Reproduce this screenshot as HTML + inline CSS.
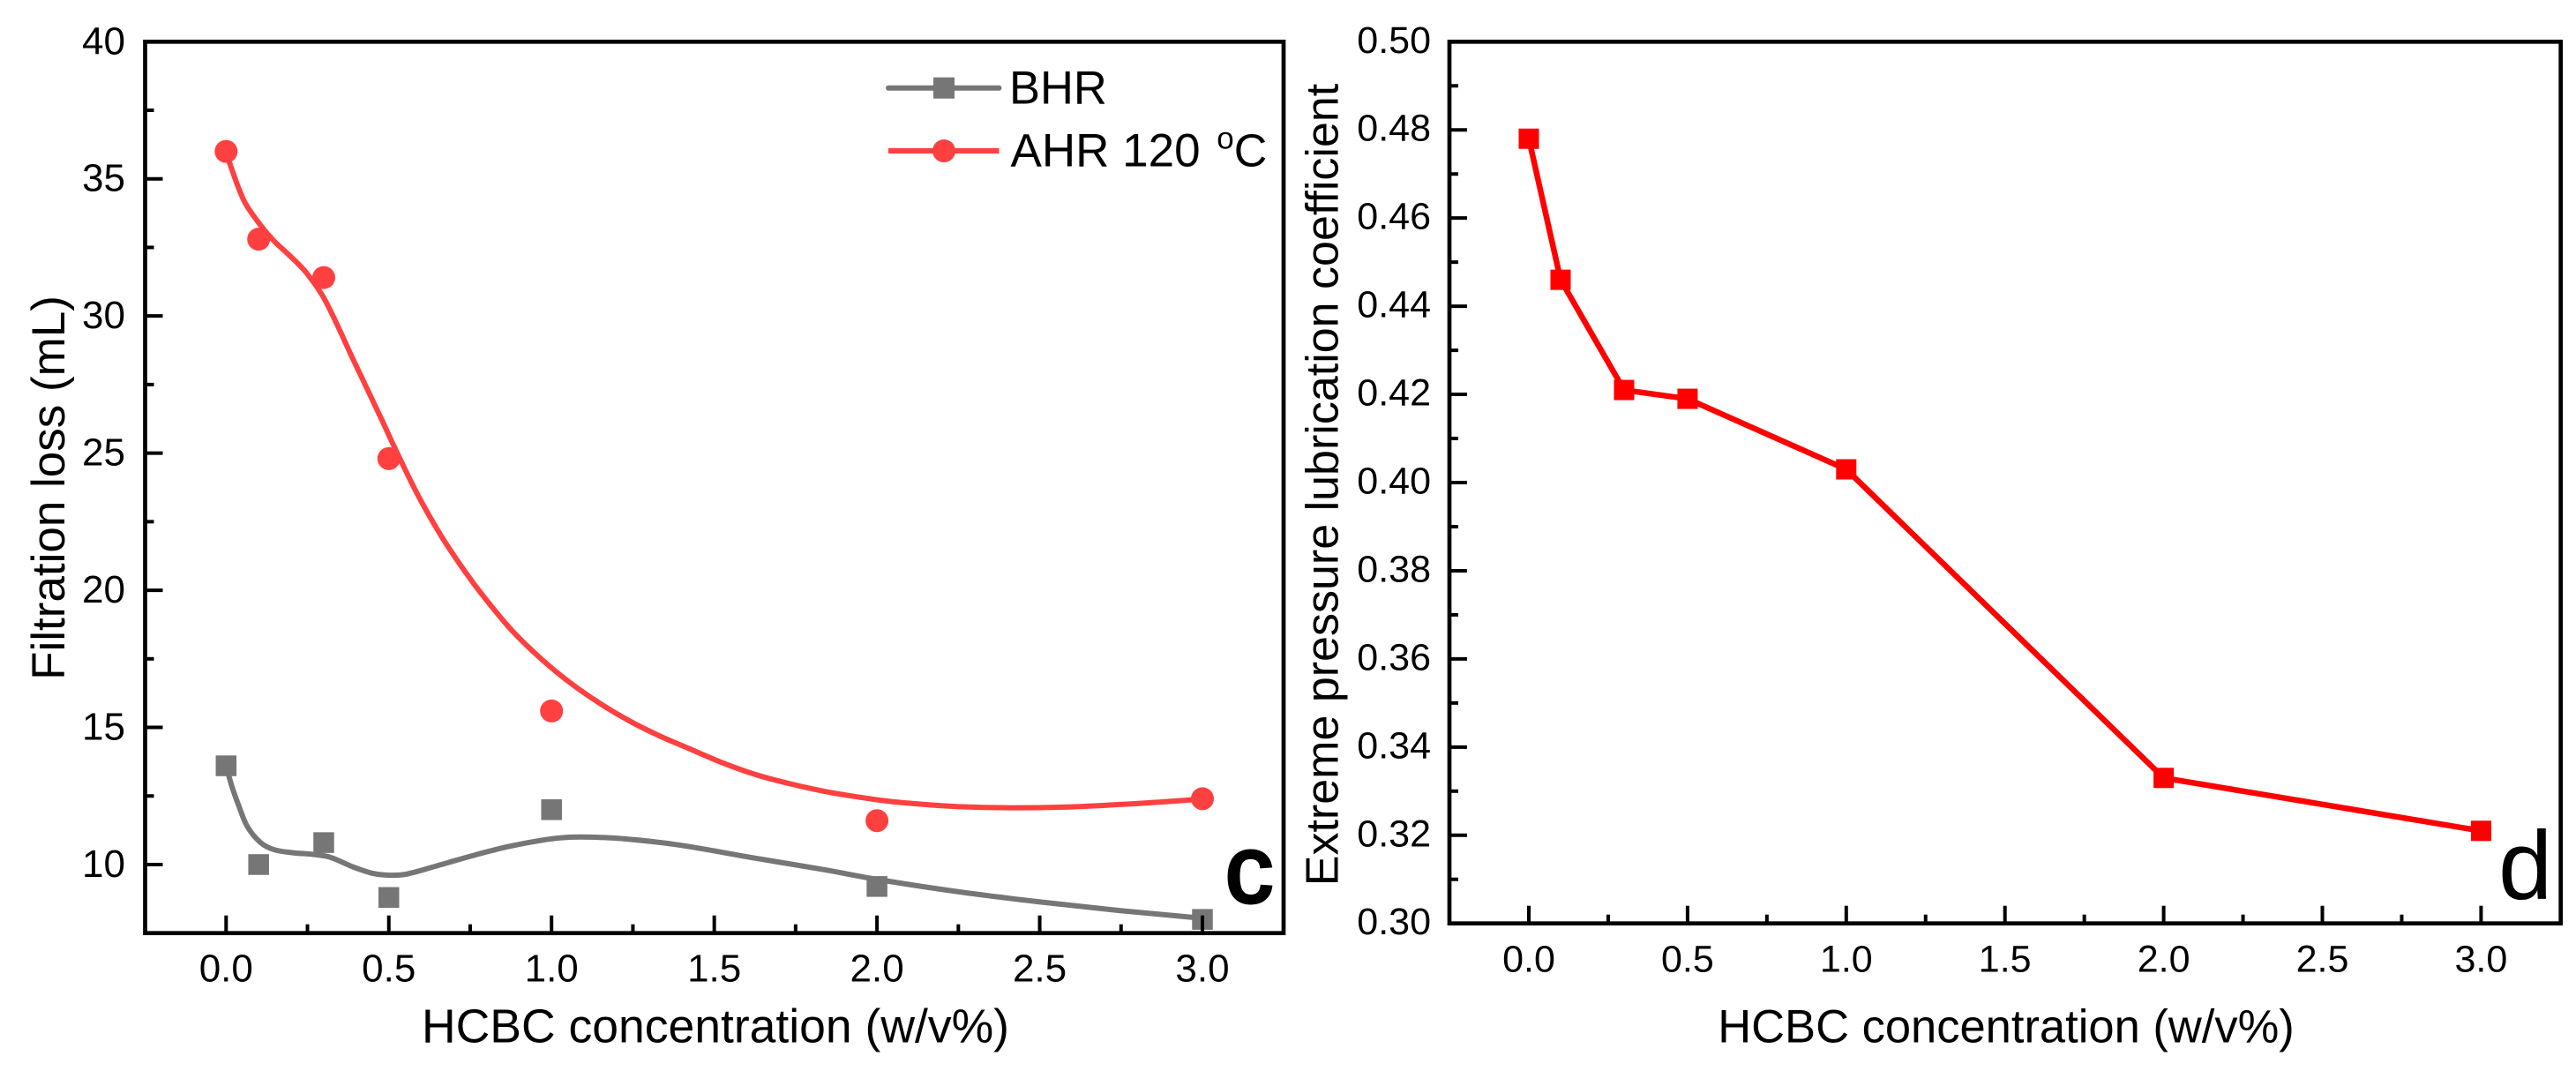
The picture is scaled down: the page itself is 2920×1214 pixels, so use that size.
<!DOCTYPE html>
<html lang="en">
<head>
<meta charset="utf-8">
<title>HCBC concentration charts</title>
<style>
html,body{margin:0;padding:0;background:#fff;}
svg{display:block;}
text{font-family:"Liberation Sans",Arial,sans-serif;fill:#000;}
</style>
</head>
<body>
<svg id="figure" xmlns="http://www.w3.org/2000/svg" width="2920" height="1214" viewBox="0 0 2920 1214">
  <rect width="2920" height="1214" fill="#fff"/>
  <g id="panel-c"></g>
  <g id="panel-d"></g>
</svg>
<script>
// ---- Shared data ----
const concentrations = [0, 0.1, 0.3, 0.5, 1, 2, 3];
const xMajorTicks = ['0.0', '0.5', '1.0', '1.5', '2.0', '2.5', '3.0'];
const xMinorTicks = [0.25, 0.75, 1.25, 1.75, 2.25, 2.75];

// ---- Panel c data ----
const bhrLoss = [13.6, 10, 10.8, 8.8, 12, 9.2, 8];
const ahrLoss = [36, 32.8, 31.4, 24.8, 15.6, 11.6, 12.4];
const bhrFitX = [0, 0.018, 0.039, 0.065, 0.106, 0.148, 0.205, 0.267, 0.319, 0.391, 0.454, 0.506, 0.558, 0.661, 0.765, 0.869, 0.972, 1.045, 1.118, 1.222, 1.387, 1.627, 1.834, 2, 2.249, 2.498, 2.748, 3];
const bhrFitY = [13.6, 12.84, 12.14, 11.39, 10.8, 10.54, 10.43, 10.37, 10.27, 9.91, 9.67, 9.61, 9.66, 10, 10.35, 10.66, 10.89, 10.99, 11, 10.94, 10.72, 10.23, 9.82, 9.46, 9.01, 8.64, 8.32, 8.04];
const ahrFitX = [0, 0.01, 0.055, 0.1, 0.146, 0.2, 0.245, 0.303, 0.391, 0.479, 0.516, 0.588, 0.66, 0.733, 0.796, 0.877, 0.968, 1.058, 1.148, 1.242, 1.33, 1.42, 1.523, 1.627, 1.731, 1.834, 1.938, 2.042, 2.146, 2.25, 2.405, 2.561, 2.716, 2.872, 3];
const ahrFitY = [36, 35.6, 34.2, 33.4, 32.75, 32.15, 31.6, 30.6, 28.4, 26.2, 25.25, 23.5, 22, 20.7, 19.7, 18.55, 17.5, 16.62, 15.88, 15.22, 14.7, 14.24, 13.72, 13.28, 12.95, 12.68, 12.47, 12.3, 12.19, 12.11, 12.07, 12.09, 12.17, 12.28, 12.39];
const lossMajorTicks = ['10', '15', '20', '25', '30', '35', '40'];
const lossMinorTicks = [12.5, 17.5, 22.5, 27.5, 32.5, 37.5];

// ---- Panel d data ----
const lubricationCoefficient = [0.478, 0.446, 0.421, 0.419, 0.403, 0.333, 0.321];
const coefMajorTicks = ['0.30', '0.32', '0.34', '0.36', '0.38', '0.40', '0.42', '0.44', '0.46', '0.48', '0.50'];
const coefMinorTicks = [0.31, 0.33, 0.35, 0.37, 0.39, 0.41, 0.43, 0.45, 0.47, 0.49];

// ---- Axis functions ----
const xC = v => 256.3 + (v - 0) * 368.9;
const yC = v => 1057.7 - (v - 7.5) * 31.09;
const xD = v => 1733 + (v - 0) * 359.8;
const yD = v => 1046.7 - (v - 0.3) * 4997;

const NS = 'http://www.w3.org/2000/svg';
function svgEl(tag, parent, props) {
  const e = document.createElementNS(NS, tag);
  for (const k in props) e.setAttribute(k, props[k]);
  parent.appendChild(e);
  return e;
}
// Smooth path with arc-length parametrised tangents (stable for uneven spacing)
function smoothPath(xs, ys, fx, fy) {
  const p = xs.map((v, i) => [fx(v), fy(ys[i])]);
  const seg = [];
  for (let i = 0; i < p.length - 1; i++) seg.push(Math.hypot(p[i + 1][0] - p[i][0], p[i + 1][1] - p[i][1]));
  const tan = p.map((q, i) => {
    if (i === 0) return [(p[1][0] - q[0]) / seg[0], (p[1][1] - q[1]) / seg[0]];
    if (i === p.length - 1) return [(q[0] - p[i - 1][0]) / seg[i - 1], (q[1] - p[i - 1][1]) / seg[i - 1]];
    const d = seg[i - 1] + seg[i];
    return [(p[i + 1][0] - p[i - 1][0]) / d, (p[i + 1][1] - p[i - 1][1]) / d];
  });
  let d = 'M' + p[0][0].toFixed(2) + ' ' + p[0][1].toFixed(2);
  for (let i = 0; i < p.length - 1; i++) {
    const h = seg[i] / 3;
    d += 'C' + (p[i][0] + tan[i][0] * h).toFixed(2) + ' ' + (p[i][1] + tan[i][1] * h).toFixed(2) + ' ' +
      (p[i + 1][0] - tan[i + 1][0] * h).toFixed(2) + ' ' + (p[i + 1][1] - tan[i + 1][1] * h).toFixed(2) + ' ' +
      p[i + 1][0].toFixed(2) + ' ' + p[i + 1][1].toFixed(2);
  }
  return d;
}

// Draw frame, ticks and tick labels for a panel
function drawAxes(g, cfg) {
  const frame = svgEl('rect', g, {x: cfg.left, y: cfg.top, width: cfg.right - cfg.left, height: cfg.bottom - cfg.top, fill: 'none', stroke: '#000', 'stroke-width': 4.7});
  
  
  cfg.xMajor.forEach(label => {
    const x = cfg.fx(parseFloat(label));
    const tick = svgEl('line', g, {x1: x, x2: x, y1: cfg.bottom, y2: cfg.bottom - 20, stroke: '#000', 'stroke-width': 4});
    
    
    const t = svgEl('text', g, {x: x, y: cfg.xLabelY, 'text-anchor': 'middle', 'font-size': cfg.tickFont});
    t.textContent = label;
    
    
  });
  cfg.xMinor.forEach(v => {
    const x = cfg.fx(v);
    const tick = svgEl('line', g, {x1: x, x2: x, y1: cfg.bottom, y2: cfg.bottom - 10, stroke: '#000', 'stroke-width': 4});
    
    
  });
  cfg.yMajor.forEach(label => {
    const y = cfg.fy(parseFloat(label));
    const tick = svgEl('line', g, {x1: cfg.left, x2: cfg.left + 20, y1: y, y2: y, stroke: '#000', 'stroke-width': 4});
    
    
    const t = svgEl('text', g, {x: cfg.yLabelX, y: y + cfg.yLabelDy, 'text-anchor': 'end', 'font-size': cfg.tickFont});
    t.textContent = label;
    
    
  });
  cfg.yMinor.forEach(v => {
    const y = cfg.fy(v);
    const tick = svgEl('line', g, {x1: cfg.left, x2: cfg.left + 10, y1: y, y2: y, stroke: '#000', 'stroke-width': 4});
    
    
  });
}

// ---- Panel c ----
const gc = document.getElementById('panel-c');
const GRAY = '#767676', CORAL = '#ff4040', RED = '#ff0000';

const bhrCurve = svgEl('path', gc, {d: smoothPath(bhrFitX, bhrFitY, xC, yC), fill: 'none', stroke: GRAY, 'stroke-width': 6});


const ahrCurve = svgEl('path', gc, {d: smoothPath(ahrFitX, ahrFitY, xC, yC), fill: 'none', stroke: CORAL, 'stroke-width': 6});



concentrations.forEach((c, i) => {
  const s = 23.5;
  const m = svgEl('rect', gc, {x: xC(c) - s / 2, y: yC(bhrLoss[i]) - s / 2, width: s, height: s, fill: GRAY});
  
  
});
concentrations.forEach((c, i) => {
  const m = svgEl('circle', gc, {cx: xC(c), cy: yC(ahrLoss[i]), r: 13, fill: CORAL});
  
  
});

drawAxes(gc, {left: 164.5, right: 1455, top: 47.3, bottom: 1057.7, fx: xC, fy: yC,
  xMajor: xMajorTicks, xMinor: xMinorTicks, yMajor: lossMajorTicks, yMinor: lossMinorTicks,
  tickFont: 44, xLabelY: 1112.7, yLabelX: 142, yLabelDy: 14});

// Legend
const legBhrLine = svgEl('line', gc, {x1: 1007, x2: 1132.5, y1: 99.7, y2: 99.7, stroke: GRAY, 'stroke-width': 6, 'stroke-linecap': 'round'});


const legBhrMark = svgEl('rect', gc, {x: 1058, y: 87.7, width: 24, height: 24, fill: GRAY});


const legAhrLine = svgEl('line', gc, {x1: 1007, x2: 1132.5, y1: 171, y2: 171, stroke: CORAL, 'stroke-width': 6});


const legAhrMark = svgEl('circle', gc, {cx: 1070, cy: 171, r: 13, fill: CORAL});


const legBhrText = svgEl('text', gc, {x: 1144, y: 117.7, 'font-size': 52.5});
legBhrText.textContent = 'BHR';


const legAhrText = svgEl('text', gc, {x: 1145.5, y: 188.3, 'font-size': 53});
legAhrText.textContent = 'AHR 120 ';


const legDeg = svgEl('tspan', legAhrText, {dx: 4, dy: -20, 'font-size': 35});
legDeg.textContent = 'o';


const legC = svgEl('tspan', legAhrText, {dy: 20, 'font-size': 52});
legC.textContent = 'C';



const xTitleC = svgEl('text', gc, {x: 811, y: 1181.7, 'text-anchor': 'middle', 'font-size': 53.5});
xTitleC.textContent = 'HCBC concentration (w/v%)';


const yTitleC = svgEl('text', gc, {x: 0, y: 0, 'text-anchor': 'middle', 'font-size': 53, transform: 'translate(73 553) rotate(-90)'});
yTitleC.textContent = 'Filtration loss (mL)';


const letterC = svgEl('text', gc, {x: 1389, y: 1022.5, 'font-size': 108, stroke: '#000', 'stroke-width': 4});
letterC.textContent = 'c';



// ---- Panel d ----
const gd = document.getElementById('panel-d');
const coefLine = svgEl('polyline', gd, {points: concentrations.map((c, i) => xD(c).toFixed(2) + ',' + yD(lubricationCoefficient[i]).toFixed(2)).join(' '), fill: 'none', stroke: RED, 'stroke-width': 6.5, 'stroke-linejoin': 'round'});


concentrations.forEach((c, i) => {
  const s = 23;
  const m = svgEl('rect', gd, {x: xD(c) - s / 2, y: yD(lubricationCoefficient[i]) - s / 2, width: s, height: s, fill: RED});
  
  
});

drawAxes(gd, {left: 1643, right: 2902.7, top: 47.3, bottom: 1046.7, fx: xD, fy: yD,
  xMajor: xMajorTicks, xMinor: xMinorTicks, yMajor: coefMajorTicks, yMinor: coefMinorTicks,
  tickFont: 43, xLabelY: 1101.7, yLabelX: 1622, yLabelDy: 12.5});

const xTitleD = svgEl('text', gd, {x: 2274, y: 1181.7, 'text-anchor': 'middle', 'font-size': 52.5});
xTitleD.textContent = 'HCBC concentration (w/v%)';


const yTitleD = svgEl('text', gd, {x: 0, y: 0, 'text-anchor': 'middle', 'font-size': 52, transform: 'translate(1516.7 549.5) rotate(-90)'});
yTitleD.textContent = 'Extreme pressure lubrication coefficient';


const letterD = svgEl('text', gd, {x: 2832, y: 1019, 'font-size': 110});
letterD.textContent = 'd';


</script>
</body>
</html>
